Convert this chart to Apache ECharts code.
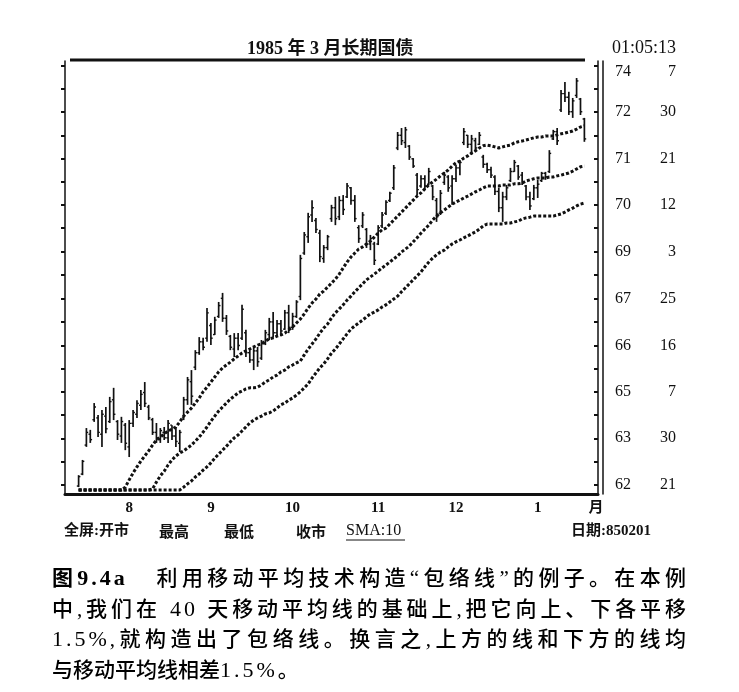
<!DOCTYPE html>
<html>
<head>
<meta charset="utf-8">
<script src="https://cdn.jsdelivr.net/npm/echarts@6/dist/echarts.min.js"></script>
<style>
html,body{margin:0;padding:0;background:#fff;}
#wrap{position:relative;width:739px;height:692px;overflow:hidden;background:#fff;}
#chart{position:absolute;left:0;top:0;width:739px;height:692px;}
#caption{position:absolute;left:52px;top:563px;width:634px;font-family:"Liberation Serif","Noto Sans CJK SC",serif;font-size:21px;font-weight:500;line-height:29.7px;color:#000;}
#caption .j{text-align:justify;text-align-last:justify;text-justify:inter-character;}
#caption .l{text-align:left;}
#caption b{font-family:"Liberation Serif","Noto Sans CJK SC",serif;font-weight:bold;}
#caption .n{font-size:22px;letter-spacing:3px;}
</style>
</head>
<body>
<div id="wrap">
<div id="chart"></div>
<div id="caption">
<div class="j"><b>图<span class="n">9.4a</span></b>&nbsp;&nbsp; 利用移动平均技术构造“包络线”的例子。在本例</div>
<div class="j">中,我们在 <span class="n">40</span> 天移动平均线的基础上,把它向上、下各平移</div>
<div class="j"><span class="n">1.5%</span>,就构造出了包络线。换言之,上方的线和下方的线均</div>
<div class="l">与移动平均线相差<span class="n">1.5%</span>。</div>
</div>
</div>
<script>
// ---- categories: trading days (YYMMDD) ----
const dates = [
 '840725','840726','840727','840730','840731',
 '840801','840802','840803','840806','840807','840808','840809','840810','840813','840814','840815','840816','840817','840820','840821','840822','840823','840824','840827','840828','840829','840830','840831',
 '840904','840905','840906','840907','840910','840911','840912','840913','840914','840917','840918','840919','840920','840921','840924','840925','840926','840927','840928',
 '841001','841002','841003','841004','841005','841008','841009','841010','841011','841012','841015','841016','841017','841018','841019','841022','841023','841024','841025','841026','841029','841030','841031',
 '841101','841102','841105','841106','841107','841108','841109','841112','841113','841114','841115','841116','841119','841120','841121','841123','841126','841127','841128','841129','841130',
 '841203','841204','841205','841206','841207','841210','841211','841212','841213','841214','841217','841218','841219','841220','841221','841224','841226','841227','841228','841231',
 '850102','850103','850104','850107','850108','850109','850110','850111','850114','850115','850116','850117','850118','850121','850122','850123','850124','850125','850128','850129','850130','850131',
 '850201','850204','850205','850206'
];
const firstDataDate = '840730';
const monthStartDates = ['840801','840904','841001','841101','841203','850102','850201'];
const monthLabelDates = ['840816','840917','841016','841115','841214','850116','850206'];
const monthLabels = ['8','9','10','11','12','1','月'];

// ---- y tick labels (whole points and 32nds) ----
const yTickWhole = [62, 63, 65, 66, 67, 69, 70, 71, 72, 74];
const yTick32   = [21, 30,  7, 16, 25,  3, 12, 21, 30,  7];

// ---- daily prices from 840730 to 850201 ----
const open = [
 62.62,62.95,63.75,64.05,64.45,64.50,64.05,64.55,64.40,65.00,
 64.40,64.00,64.30,63.70,64.35,64.60,64.85,65.20,64.80,64.45,
 64.10,63.90,64.10,63.95,64.30,64.00,63.80,64.50,65.00,65.50,
 65.90,66.30,66.60,66.70,67.05,66.80,67.30,67.80,67.25,66.75,
 66.40,66.70,66.70,66.85,66.30,66.10,66.35,66.15,66.55,66.80,
 67.15,66.85,67.10,66.95,67.40,67.00,67.30,67.85,69.05,69.50,
 70.10,69.95,69.60,68.90,69.20,70.00,70.30,70.05,70.50,70.60,
 70.85,70.50,69.75,69.80,69.70,69.30,69.30,69.30,69.80,70.15,
 70.50,70.85,71.95,72.30,72.10,72.00,71.65,71.20,70.90,71.10,
 70.95,70.90,70.50,70.15,71.00,71.15,70.90,71.10,71.40,72.10,
 72.30,72.05,72.15,72.05,71.70,71.50,71.35,71.15,70.75,70.30,
 70.60,71.05,71.30,71.45,71.20,70.90,70.60,70.55,70.85,71.05,
 71.25,71.30,72.20,72.40,73.00,73.45,73.35,72.95,73.40,73.30,72.75
];
const high = [
 62.92,63.34,64.22,64.17,64.91,64.58,64.72,64.80,65.08,65.33,
 64.44,64.53,64.36,64.44,64.72,64.99,65.27,65.49,64.86,64.50,
 64.36,64.22,64.25,64.44,64.30,64.25,64.17,65.08,65.63,65.82,
 66.37,66.73,66.71,67.53,67.12,67.29,67.70,67.95,67.34,66.79,
 66.84,66.84,67.62,66.93,66.37,66.46,66.46,66.65,66.93,67.26,
 67.42,67.20,67.20,67.48,67.62,67.40,67.75,69.00,69.63,70.16,
 70.51,70.02,69.69,69.27,69.55,70.38,70.60,70.62,70.65,70.98,
 70.87,70.65,69.82,70.18,69.74,69.55,69.36,69.82,70.18,70.51,
 70.74,71.48,72.39,72.50,72.53,72.03,71.67,71.26,71.20,71.20,
 71.40,70.93,70.57,70.79,71.29,71.20,71.20,71.48,71.62,72.50,
 72.31,72.31,72.23,72.39,71.76,71.54,71.43,71.20,70.85,70.74,
 70.93,71.40,71.62,71.48,71.29,70.93,70.74,70.93,71.07,71.29,
 71.29,71.89,72.45,72.50,73.55,73.77,73.50,73.33,73.88,73.33,72.78
];
const low = [
 62.59,62.92,63.70,63.81,64.39,63.97,63.70,64.08,64.36,64.44,
 63.89,63.81,63.61,63.42,64.25,64.50,64.72,64.80,64.44,64.03,
 63.81,63.81,63.89,63.81,63.89,63.70,63.56,64.44,64.86,64.86,
 65.82,66.24,66.37,66.60,66.51,66.79,67.26,67.15,66.79,66.37,
 66.18,66.37,66.65,66.18,66.02,65.82,65.91,66.10,66.51,66.65,
 66.71,66.76,66.76,66.93,66.84,66.93,67.26,67.75,69.00,69.33,
 69.91,69.60,68.80,68.78,69.13,69.91,69.82,69.96,70.10,70.57,
 70.38,69.91,69.33,69.74,69.19,69.13,68.72,69.27,69.74,70.10,
 70.46,70.79,71.89,72.03,71.95,71.62,71.40,70.65,70.85,70.79,
 70.93,70.51,69.91,70.10,70.93,70.74,70.38,71.01,71.20,72.03,
 71.95,71.76,71.84,72.03,71.40,71.26,71.12,70.65,70.18,69.91,
 70.51,71.01,71.29,71.07,70.93,70.51,70.24,70.51,70.57,71.01,
 71.07,71.26,72.17,72.03,72.94,73.22,72.86,72.78,73.33,72.86,72.12
];
const close = [
 62.88,63.30,64.10,63.90,64.80,64.10,64.60,64.20,64.95,64.60,
 64.05,64.40,63.80,64.35,64.65,64.90,65.15,64.90,64.50,64.10,
 63.95,64.15,63.95,64.35,64.00,63.85,64.10,65.00,65.55,65.10,
 66.30,66.60,66.45,67.40,66.70,67.20,67.60,67.25,66.90,66.45,
 66.70,66.50,67.50,66.30,66.10,66.35,66.05,66.55,66.85,67.15,
 66.85,67.10,66.90,67.40,67.00,67.30,67.70,68.90,69.55,70.05,
 70.30,69.70,68.95,69.20,69.50,70.30,70.00,70.50,70.25,70.90,
 70.50,70.00,69.45,70.10,69.30,69.45,68.85,69.75,70.10,70.45,
 70.70,71.40,72.30,72.15,72.45,71.70,71.45,70.80,71.10,70.90,
 71.30,70.60,70.05,70.70,71.20,70.85,71.10,71.40,71.55,72.40,
 72.05,72.20,71.95,72.30,71.50,71.35,71.20,70.75,70.30,70.60,
 70.85,71.30,71.55,71.15,71.00,70.60,70.35,70.85,70.95,71.25,
 71.15,71.80,72.40,72.15,73.45,73.35,72.95,73.25,73.80,72.95,72.20
];
// 40-day moving average and envelope lines as drawn (held at chart floor early on)
const upperEnv = [
 62.51,62.51,62.51,62.51,62.51,62.51,62.51,62.51,62.51,62.51,
 62.51,62.51,62.59,62.79,62.98,63.15,63.31,63.45,63.59,63.75,
 63.89,63.97,64.06,64.14,64.19,64.25,64.39,64.55,64.66,64.77,
 64.91,65.05,65.22,65.35,65.49,65.63,65.77,65.88,65.96,66.04,
 66.13,66.21,66.29,66.35,66.40,66.46,66.51,66.54,66.62,66.68,
 66.71,66.76,66.79,66.84,66.93,67.01,67.12,67.23,67.37,67.53,
 67.67,67.78,67.92,68.00,68.11,68.22,68.33,68.47,68.64,68.80,
 68.94,69.05,69.16,69.22,69.30,69.38,69.49,69.60,69.69,69.74,
 69.85,69.96,70.07,70.18,70.29,70.40,70.51,70.62,70.71,70.82,
 70.93,71.01,71.09,71.18,71.26,71.34,71.45,71.54,71.59,71.67,
 71.73,71.81,71.87,71.95,72.01,72.03,72.01,71.98,71.95,71.98,
 72.01,72.03,72.09,72.12,72.14,72.17,72.20,72.23,72.25,72.25,
 72.28,72.28,72.28,72.31,72.34,72.36,72.39,72.42,72.47,72.53,72.56
];
const ma40 = [
 62.51,62.51,62.51,62.51,62.51,62.51,62.51,62.51,62.51,62.51,
 62.51,62.51,62.51,62.51,62.51,62.51,62.51,62.51,62.51,62.54,
 62.73,62.90,63.03,63.20,63.34,63.45,63.53,63.59,63.67,63.75,
 63.86,63.97,64.11,64.25,64.41,64.55,64.69,64.80,64.91,65.02,
 65.10,65.19,65.24,65.30,65.33,65.33,65.35,65.41,65.49,65.55,
 65.63,65.68,65.77,65.82,65.91,65.96,66.02,66.07,66.24,66.40,
 66.54,66.68,66.84,66.98,67.09,67.26,67.40,67.51,67.62,67.75,
 67.86,67.98,68.09,68.20,68.31,68.39,68.47,68.55,68.64,68.72,
 68.80,68.89,68.97,69.08,69.16,69.24,69.36,69.47,69.60,69.71,
 69.82,69.96,70.07,70.16,70.24,70.32,70.40,70.46,70.51,70.57,
 70.62,70.68,70.74,70.79,70.85,70.90,70.90,70.90,70.90,70.93,
 70.93,70.93,70.96,70.96,70.98,71.04,71.07,71.10,71.12,71.12,
 71.12,71.15,71.15,71.18,71.20,71.23,71.26,71.31,71.37,71.43,71.45
];
const lowerEnv = [
 62.51,62.51,62.51,62.51,62.51,62.51,62.51,62.51,62.51,62.51,
 62.51,62.51,62.51,62.51,62.51,62.51,62.51,62.51,62.51,62.51,
 62.51,62.51,62.51,62.51,62.51,62.51,62.51,62.59,62.68,62.76,
 62.87,62.95,63.06,63.15,63.26,63.39,63.50,63.61,63.72,63.84,
 63.95,64.03,64.14,64.25,64.36,64.44,64.50,64.55,64.61,64.64,
 64.69,64.77,64.86,64.91,64.99,65.05,65.13,65.22,65.33,65.44,
 65.60,65.74,65.88,65.99,66.13,66.29,66.40,66.54,66.68,66.82,
 66.95,67.04,67.12,67.20,67.29,67.37,67.42,67.48,67.56,67.62,
 67.70,67.78,67.86,67.98,68.09,68.20,68.31,68.42,68.53,68.67,
 68.80,68.91,69.00,69.08,69.13,69.22,69.30,69.36,69.41,69.47,
 69.52,69.58,69.63,69.71,69.80,69.85,69.85,69.85,69.85,69.85,
 69.88,69.88,69.91,69.93,69.99,70.02,70.04,70.07,70.07,70.07,
 70.07,70.07,70.07,70.10,70.13,70.18,70.24,70.29,70.35,70.40,70.43
];

// ---- build library inputs ----
const FIRST = dates.indexOf(firstDataDate);
function alignToDates(arr){
  const out = dates.map(function(){ return null; });
  arr.forEach(function(v, i){ out[FIRST + i] = v; });
  return out;
}
const ohlcData = open.map(function(o, i){ return [FIRST + i, o, high[i], low[i], close[i]]; });
const yMajor = yTickWhole.map(function(w, i){ return w + yTick32[i] / 32; });
const yMinor = [];
yMajor.forEach(function(v, i){
  yMinor.push(v);
  if (i < yMajor.length - 1) yMinor.push((v + yMajor[i + 1]) / 2);
});
function yLabel(v){
  let k = 0, best = 1e9;
  yMajor.forEach(function(m, i){ const d = Math.abs(m - v); if (d < best){ best = d; k = i; } });
  if (k === yMajor.length - 1) return '{wt|' + yTickWhole[k] + '}{ft|' + yTick32[k] + '}';
  return '{w|' + yTickWhole[k] + '}{f|' + yTick32[k] + '}';
}

const INK = '#111';
const SERIF = '"Liberation Serif","Noto Sans CJK SC",serif';
const Y_MIN = 62.4, Y_MAX = 74.35;

const chart = echarts.init(document.getElementById('chart'), null, {renderer: 'canvas'});
const lineStyleEnv = {color: INK, width: 3, type: [3, 2]};

chart.setOption({
  animation: false,
  backgroundColor: 'transparent',
  title: {
    text: '1985 年 3 月长期国债',
    left: 242, top: 35,
    textStyle: {fontFamily: SERIF, fontWeight: 'bold', fontSize: 18, color: INK}
  },
  grid: {left: 65, right: 141, top: 61, bottom: 198, containLabel: false, outerBoundsMode: 'none'},
  xAxis: {
    type: 'category',
    data: dates,
    boundaryGap: true,
    axisLine: {lineStyle: {color: INK, width: 3}},
    axisTick: {
      interval: function(i, v){ return monthStartDates.indexOf(v) >= 0; },
      length: 6, lineStyle: {color: INK, width: 1.5}
    },
    axisLabel: {
      interval: function(i, v){ return monthLabelDates.indexOf(v) >= 0; },
      formatter: function(v){ const k = monthLabelDates.indexOf(v); return k >= 0 ? monthLabels[k] : ''; },
      fontFamily: SERIF, fontWeight: 'bold', fontSize: 15, color: INK, margin: 7
    },
    splitLine: {show: false}
  },
  yAxis: [
    {
      type: 'value', position: 'left', min: Y_MIN, max: Y_MAX,
      axisLine: {show: true, lineStyle: {color: INK, width: 1.5}},
      axisTick: {show: true, customValues: yMinor, length: 4, lineStyle: {color: INK, width: 2}},
      axisLabel: {show: false},
      splitLine: {show: false}
    },
    {
      type: 'value', position: 'right', min: Y_MIN, max: Y_MAX,
      axisLine: {show: true, onZero: false, lineStyle: {color: INK, width: 1.5}},
      axisTick: {show: true, inside: true, customValues: yMinor, length: 4, lineStyle: {color: INK, width: 2}},
      axisLabel: {show: false},
      splitLine: {show: false}
    },
    {
      type: 'value', position: 'right', offset: 5, min: Y_MIN, max: Y_MAX,
      axisLine: {show: true, onZero: false, lineStyle: {color: INK, width: 1.5}},
      axisTick: {show: false},
      axisLabel: {
        show: true, customValues: yMajor, margin: 12,
        formatter: yLabel,
        rich: {
          w: {fontFamily: SERIF, fontSize: 16, color: INK, width: 30, align: 'left'},
          f: {fontFamily: SERIF, fontSize: 16, color: INK, width: 31, align: 'right'},
          wt: {fontFamily: SERIF, fontSize: 16, color: INK, width: 30, align: 'left', padding: [12, 0, 0, 0]},
          ft: {fontFamily: SERIF, fontSize: 16, color: INK, width: 31, align: 'right', padding: [12, 0, 0, 0]}
        }
      },
      splitLine: {show: false}
    }
  ],
  series: [
    {
      name: 'OHLC', type: 'custom', yAxisIndex: 0, data: ohlcData,
      encode: {x: 0, y: [1, 2, 3, 4]},
      silent: true, z: 2,
      renderItem: function(params, api){
        const x = api.value(0);
        const pH = api.coord([x, api.value(2)]);
        const pL = api.coord([x, api.value(3)]);
        const pO = api.coord([x, api.value(1)]);
        const pC = api.coord([x, api.value(4)]);
        const t = 1.8;
        return {
          type: 'group',
          children: [
            {type: 'line', shape: {x1: pH[0], y1: pH[1], x2: pL[0], y2: pL[1]}, style: {stroke: INK, lineWidth: 1.7}},
            {type: 'line', shape: {x1: pO[0] - t, y1: pO[1], x2: pO[0], y2: pO[1]}, style: {stroke: INK, lineWidth: 1.4}},
            {type: 'line', shape: {x1: pC[0], y1: pC[1], x2: pC[0] + t, y2: pC[1]}, style: {stroke: INK, lineWidth: 1.4}}
          ]
        };
      }
    },
    {name: 'Upper', type: 'line', yAxisIndex: 0, data: alignToDates(upperEnv), symbol: 'none', silent: true, z: 3, lineStyle: lineStyleEnv},
    {name: 'SMA40', type: 'line', yAxisIndex: 0, data: alignToDates(ma40), symbol: 'none', silent: true, z: 3, lineStyle: lineStyleEnv},
    {name: 'Lower', type: 'line', yAxisIndex: 0, data: alignToDates(lowerEnv), symbol: 'none', silent: true, z: 3, lineStyle: lineStyleEnv}
  ],
  graphic: [
    {type: 'line', silent: true, shape: {x1: 70, y1: 60, x2: 585, y2: 60}, style: {stroke: INK, lineWidth: 3}},
    {type: 'text', silent: true, x: 612, y: 48, style: {text: '01:05:13', font: '18px "Liberation Serif",serif', fill: INK, verticalAlign: 'middle'}},
    {type: 'text', silent: true, x: 64, y: 531, style: {text: '全屏:开市', font: 'bold 15px "Liberation Serif","Noto Sans CJK SC",serif', fill: INK, verticalAlign: 'middle'}},
    {type: 'text', silent: true, x: 159, y: 531, style: {text: '最高', font: 'bold 15px "Noto Sans CJK SC",sans-serif', fill: INK, verticalAlign: 'middle'}},
    {type: 'text', silent: true, x: 224, y: 531, style: {text: '最低', font: 'bold 15px "Noto Sans CJK SC",sans-serif', fill: INK, verticalAlign: 'middle'}},
    {type: 'text', silent: true, x: 296, y: 531, style: {text: '收市', font: 'bold 15px "Noto Sans CJK SC",sans-serif', fill: INK, verticalAlign: 'middle'}},
    {type: 'text', silent: true, x: 346, y: 531, style: {text: 'SMA:10', font: '16px "Liberation Serif",serif', fill: INK, verticalAlign: 'middle'}},
    {type: 'line', silent: true, shape: {x1: 346, y1: 540, x2: 405, y2: 540}, style: {stroke: INK, lineWidth: 1}},
    {type: 'text', silent: true, x: 571, y: 531, style: {text: '日期:850201', font: 'bold 15px "Liberation Serif","Noto Sans CJK SC",serif', fill: INK, verticalAlign: 'middle'}}
  ]
});
</script>
</body>
</html>
